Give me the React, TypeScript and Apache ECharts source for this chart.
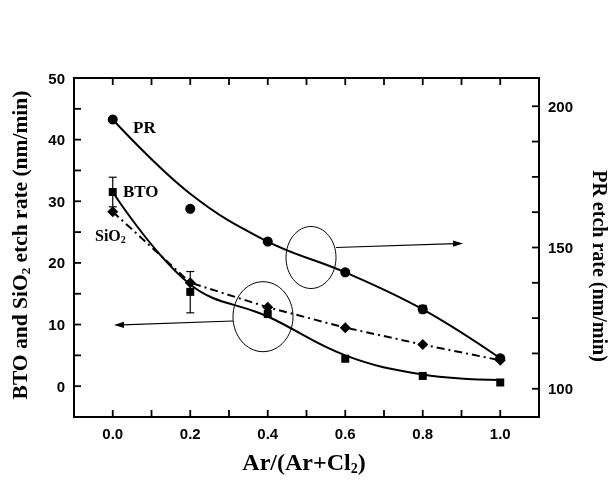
import React, { useEffect, useRef } from "react";
import * as echarts from "echarts";

const ratios = [0.0, 0.2, 0.4, 0.6, 0.8, 1.0];
const prPoints = [195.3, 163.7, 152.1, 141.2, 128.1, 110.8];
const prFit = [195.3, 169.0, 152.1, 141.2, 128.1, 110.8];
const btoPoints = [31.5, 15.3, 11.7, 4.45, 1.66, 0.6];
const btoFit = [31.5, 16.5, 11.3, 5.0, 1.9, 1.0];
const sio2Points = [28.3, 16.8, 12.8, 9.5, 6.75, 4.2];
const btoErr = [
  [0.0, 29.1, 33.9],
  [0.2, 11.9, 18.6],
];
const prErr = [[0.8, 126.9, 129.5]];
const xTicks = [0, 0.1, 0.2, 0.3, 0.4, 0.5, 0.6, 0.7, 0.8, 0.9, 1.0];
const xLabels = [0, 0.2, 0.4, 0.6, 0.8, 1.0];
const leftTicks = [0, 5, 10, 15, 20, 25, 30, 35, 40, 45, 50];
const leftLabels = [0, 10, 20, 30, 40, 50];
const rightTicks = [100, 112.5, 125, 137.5, 150, 162.5, 175, 187.5, 200];
const rightLabels = [100, 150, 200];

const zip = (xs: number[], ys: number[]) => xs.map((x, i) => [x, ys[i]]);

const serif = "'Liberation Serif', 'Times New Roman', serif";
const sans = "'Liberation Sans', Arial, sans-serif";
const TICK = 7;
const X_MIN = -0.1;
const X_MAX = 1.1;
const L_MIN = -5;
const L_MAX = 50;
const R_MIN = 90;
const R_MAX = 210;

const errRender = (params: any, api: any) => {
  const x = api.value(0);
  const p1 = api.coord([x, api.value(1)]);
  const p2 = api.coord([x, api.value(2)]);
  const w = 4;
  return {
    type: "group",
    children: [
      { type: "line", shape: { x1: p1[0], y1: p1[1], x2: p2[0], y2: p2[1] }, style: { stroke: "#000", lineWidth: 1.2 } },
      { type: "line", shape: { x1: p1[0] - w, y1: p1[1], x2: p1[0] + w, y2: p1[1] }, style: { stroke: "#000", lineWidth: 1.2 } },
      { type: "line", shape: { x1: p2[0] - w, y1: p2[1], x2: p2[0] + w, y2: p2[1] }, style: { stroke: "#000", lineWidth: 1.2 } },
    ],
  };
};

// tick marks drawn through the axes' scales (kind 0: x ticks, 1: left ticks, 2: right ticks)
const tickRender = (params: any, api: any) => {
  const kind = api.value(0);
  const v = api.value(1);
  const st = { stroke: "#000", lineWidth: 1.8 };
  if (kind === 0) {
    const b = api.coord([v, kind === 0 ? L_MIN : 0]);
    const t = api.coord([v, L_MAX]);
    return {
      type: "group",
      children: [
        { type: "line", shape: { x1: b[0], y1: b[1], x2: b[0], y2: b[1] - TICK }, style: { ...st } },
        { type: "line", shape: { x1: t[0], y1: t[1], x2: t[0], y2: t[1] + TICK }, style: { ...st } },
      ],
    };
  }
  if (kind === 1) {
    const p = api.coord([X_MIN, v]);
    return { type: "line", shape: { x1: p[0], y1: p[1], x2: p[0] + TICK, y2: p[1] }, style: { ...st } };
  }
  const p = api.coord([X_MAX, v]);
  return { type: "line", shape: { x1: p[0], y1: p[1], x2: p[0] - TICK, y2: p[1] }, style: { ...st } };
};

const tickLabel = () => ({ color: "#000", fontFamily: sans, fontWeight: "bold", fontSize: 15, margin: 9 });
const rich = (size: number) => ({
  a: { fontFamily: serif, fontWeight: "bold", fontSize: size, fill: "#000" },
  s: { fontFamily: serif, fontWeight: "bold", fontSize: Math.round(size * 0.6), fill: "#000", padding: [Math.round(size / 2), 0, 0, 0] },
});

const baseGraphic = () => [
  { type: "ellipse", shape: { cx: 311, cy: 257.5, rx: 25, ry: 31 }, style: { fill: "none", stroke: "#000", lineWidth: 1 } },
  { type: "line", shape: { x1: 336, y1: 247.5, x2: 455, y2: 243.7 }, style: { stroke: "#000", lineWidth: 1.2 } },
  { type: "polygon", shape: { points: [[463, 243.5], [453, 240.5], [453, 246.7]] }, style: { fill: "#000" } },
  { type: "ellipse", shape: { cx: 263, cy: 316.7, rx: 30, ry: 35 }, style: { fill: "none", stroke: "#000", lineWidth: 1 } },
  { type: "line", shape: { x1: 233, y1: 321, x2: 122, y2: 324.8 }, style: { stroke: "#000", lineWidth: 1.2 } },
  { type: "polygon", shape: { points: [[114, 325], [124, 321.8], [124, 328]] }, style: { fill: "#000" } },
  {
    type: "text",
    x: 133,
    y: 127.5,
    style: { text: "PR", font: `bold 17px ${serif}`, fill: "#000", textAlign: "left", textVerticalAlign: "middle", align: "left", verticalAlign: "middle" },
  },
  {
    type: "text",
    x: 123,
    y: 191,
    style: { text: "BTO", font: `bold 17px ${serif}`, fill: "#000", textAlign: "left", textVerticalAlign: "middle", align: "left", verticalAlign: "middle" },
  },
  {
    type: "text",
    x: 95,
    y: 235,
    style: { text: "{a|SiO}{s|2}", rich: rich(16), textAlign: "left", textVerticalAlign: "middle", align: "left", verticalAlign: "middle" },
  },
  {
    type: "text",
    x: 20,
    y: 245,
    rotation: Math.PI / 2,
    style: {
      text: "{a|BTO and SiO}{s|2}{a| etch rate (nm/min)}",
      rich: rich(21.5),
      textAlign: "center",
      textVerticalAlign: "middle",
      align: "center",
      verticalAlign: "middle",
    },
  },
  {
    type: "text",
    x: 600,
    y: 266,
    rotation: -Math.PI / 2,
    style: {
      text: "PR etch rate (nm/min)",
      font: `bold 20px ${serif}`,
      fill: "#000",
      textAlign: "center",
      textVerticalAlign: "middle",
      align: "center",
      verticalAlign: "middle",
    },
  },
  {
    type: "text",
    x: 304,
    y: 462,
    style: {
      text: "{a|Ar/(Ar+Cl}{s|2}{a|)}",
      rich: rich(24),
      textAlign: "center",
      textVerticalAlign: "middle",
      align: "center",
      verticalAlign: "middle",
    },
  },
];

export default function App() {
  const ref = useRef<HTMLDivElement>(null);
  useEffect(() => {
    const chart = echarts.init(ref.current!, undefined, { renderer: "svg" });
    const tickData = [
      ...xTicks.map((v) => [0, v]),
      ...leftTicks.map((v) => [1, v]),
    ];
    chart.setOption({
      animation: false,
      grid: { show: true, left: 74, right: 76, top: 78, bottom: 65, borderColor: "#000", borderWidth: 2, backgroundColor: "transparent" },
      xAxis: [
        {
          type: "value",
          min: X_MIN,
          max: X_MAX,
          position: "bottom",
          axisLine: { show: false, onZero: false },
          axisTick: { show: false },
          axisLabel: { ...tickLabel(), customValues: xLabels.slice(), formatter: (v: number) => v.toFixed(1) },
          splitLine: { show: false },
        },
      ],
      yAxis: [
        {
          type: "value",
          min: L_MIN,
          max: L_MAX,
          position: "left",
          axisLine: { show: false, onZero: false },
          axisTick: { show: false },
          axisLabel: { ...tickLabel(), customValues: leftLabels.slice() },
          splitLine: { show: false },
        },
        {
          type: "value",
          min: R_MIN,
          max: R_MAX,
          position: "right",
          axisLine: { show: false, onZero: false },
          axisTick: { show: false },
          axisLabel: { ...tickLabel(), customValues: rightLabels.slice() },
          splitLine: { show: false },
        },
      ],
      series: [
        {
          type: "line",
          yAxisIndex: 1,
          data: zip(ratios, prFit),
          smooth: 0.4,
          showSymbol: false,
          lineStyle: { color: "#000", width: 2 },
        },
        {
          type: "line",
          yAxisIndex: 0,
          data: zip(ratios, btoFit),
          smooth: 0.4,
          showSymbol: false,
          lineStyle: { color: "#000", width: 2 },
        },
        {
          type: "line",
          yAxisIndex: 0,
          data: zip(ratios, sio2Points),
          symbol: "diamond",
          symbolSize: 11,
          showSymbol: true,
          itemStyle: { color: "#000", opacity: 1 },
          lineStyle: { color: "#000", width: 2, type: [8, 4, 2, 4] },
        },
        {
          type: "scatter",
          yAxisIndex: 1,
          data: zip(ratios, prPoints),
          symbol: "circle",
          symbolSize: 10,
          itemStyle: { color: "#000", opacity: 1 },
        },
        {
          type: "scatter",
          yAxisIndex: 0,
          data: zip(ratios, btoPoints),
          symbol: "rect",
          symbolSize: 8,
          itemStyle: { color: "#000", opacity: 1 },
        },
        { type: "custom", yAxisIndex: 0, data: btoErr, renderItem: errRender },
        { type: "custom", yAxisIndex: 1, data: prErr, renderItem: errRender },
        {
          type: "custom",
          yAxisIndex: 0,
          data: tickData,
          encode: { x: -1, y: -1 },
          renderItem: tickRender,
          clip: false,
          silent: true,
          z: 10,
        },
        {
          type: "custom",
          yAxisIndex: 1,
          data: rightTicks.map((v) => [2, v]),
          encode: { x: -1, y: -1 },
          renderItem: tickRender,
          clip: false,
          silent: true,
          z: 10,
        },
      ],
      graphic: { elements: baseGraphic() },
    });
    return () => chart.dispose();
  }, []);
  return <div ref={ref} style={{ position: "fixed", left: 0, top: 0, width: 615, height: 482 }} />;
}
